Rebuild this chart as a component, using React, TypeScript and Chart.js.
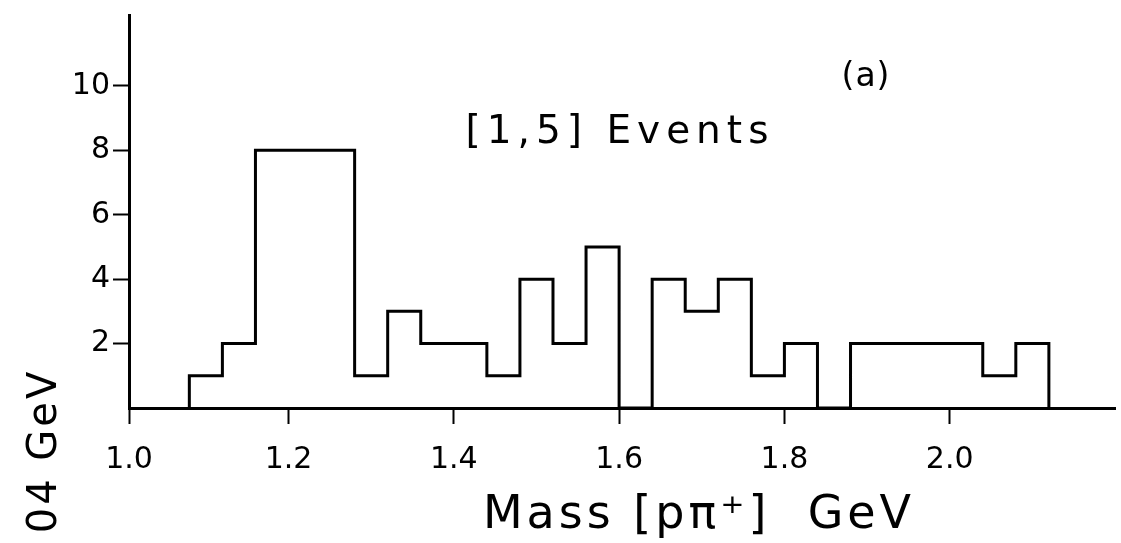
import { useEffect, useRef } from "react";
import { Chart, registerables } from "chart.js";

Chart.register(...registerables);

// ---- data ----
const binLowEdges = [
  1.08, 1.12, 1.16, 1.2, 1.24, 1.28, 1.32, 1.36, 1.4, 1.44, 1.48, 1.52, 1.56,
  1.6, 1.64, 1.68, 1.72, 1.76, 1.8, 1.84, 1.88, 1.92, 1.96, 2.0, 2.04, 2.08,
];
const lastUpperEdge = 2.12;
const counts = [
  1, 2, 8, 8, 8, 1, 3, 2, 2, 1, 4, 2, 5, 0, 4, 3, 4, 1, 2, 0, 2, 2, 2, 2, 1, 2,
];
const xTickValues = [1.0, 1.2, 1.4, 1.6, 1.8, 2.0];
const xTickLabels = ["1.0", "1.2", "1.4", "1.6", "1.8", "2.0"];
const yTickValues = [2, 4, 6, 8, 10];
const panelTag = "(a)";
const eventsLabel = "[1,5] Events";
const xTitle = "Mass [pπ⁺]  GeV";
const yTitle = "04 GeV";

const X_MIN = 1.007;
const X_MAX = 2.2;
const Y_MAX = 12.2;
const FONT = "'DejaVu Sans', sans-serif";

export default function App() {
  const ref = useRef<HTMLCanvasElement | null>(null);

  useEffect(() => {
    if (!ref.current) return;
    const points = [
      { x: binLowEdges[0], y: 0 },
      ...binLowEdges.map((x, i) => ({ x, y: counts[i] })),
      { x: lastUpperEdge, y: 0 },
    ];

    const textPlugin = {
      id: "handText",
      afterDraw(chart: any) {
        const ctx = chart.ctx as CanvasRenderingContext2D;
        ctx.save();
        ctx.fillStyle = "#000";
        ctx.textAlign = "center";
        ctx.textBaseline = "alphabetic";

        (ctx as any).letterSpacing = "6px";
        ctx.font = `39px ${FONT}`;
        ctx.fillText(eventsLabel, 620, 143);

        (ctx as any).letterSpacing = "1px";
        ctx.font = `33px ${FONT}`;
        ctx.fillText(panelTag, 866, 86);

        (ctx as any).letterSpacing = "4px";
        ctx.font = `46px ${FONT}`;
        ctx.fillText(xTitle, 699, 528);

        ctx.translate(56, 451);
        ctx.rotate(-Math.PI / 2);
        (ctx as any).letterSpacing = "3px";
        ctx.font = `40px ${FONT}`;
        ctx.fillText(yTitle, 0, 0);
        ctx.restore();
      },
    };

    const chart = new Chart(ref.current, {
      type: "line",
      data: {
        datasets: [
          {
            data: points,
            stepped: true,
            borderColor: "#000",
            borderWidth: 3,
            pointRadius: 0,
            fill: false,
          },
        ],
      },
      options: {
        animation: false,
        responsive: false,
        events: [],
        layout: { padding: { top: 15, right: 6, left: 0, bottom: 0 } },
        plugins: {
          legend: { display: false },
          tooltip: { enabled: false },
          title: { display: false },
        },
        scales: {
          x: {
            type: "linear",
            min: X_MIN,
            max: X_MAX,
            afterBuildTicks: (scale: any) => {
              scale.ticks = xTickValues.map((v) => ({ value: Math.max(v, X_MIN) }));
            },
            afterFit: (scale: any) => {
              scale.height = 135;
              scale.paddingLeft = 0;
              scale.paddingRight = 0;
            },
            border: { display: true, color: "#000", width: 3 },
            grid: {
              drawOnChartArea: false,
              drawTicks: true,
              tickLength: 16,
              tickWidth: 2,
              tickColor: "#000",
            },
            ticks: {
              color: "#000",
              font: { family: FONT, size: 30 },
              padding: 18,
              maxRotation: 0,
              autoSkip: false,
              callback: (_v: any, i: number) => xTickLabels[i],
            },
          },
          y: {
            type: "linear",
            min: 0,
            max: Y_MAX,
            afterBuildTicks: (scale: any) => {
              scale.ticks = yTickValues.map((v) => ({ value: v }));
            },
            afterFit: (scale: any) => {
              scale.width = 129;
              scale.paddingTop = 0;
              scale.paddingBottom = 0;
            },
            border: { display: true, color: "#000", width: 3 },
            grid: {
              drawOnChartArea: false,
              drawTicks: true,
              tickLength: 16,
              tickWidth: 2,
              tickColor: "#000",
            },
            ticks: {
              color: "#000",
              font: { family: FONT, size: 30 },
              padding: 3,
              autoSkip: false,
              callback: (v: any) => String(v),
            },
          },
        },
      },
      plugins: [textPlugin],
    });

    return () => chart.destroy();
  }, []);

  return (
    <div style={{ position: "fixed", left: 0, top: 0, width: 1121, height: 543, background: "#fff" }}>
      <canvas ref={ref} width={1121} height={543} />
    </div>
  );
}
